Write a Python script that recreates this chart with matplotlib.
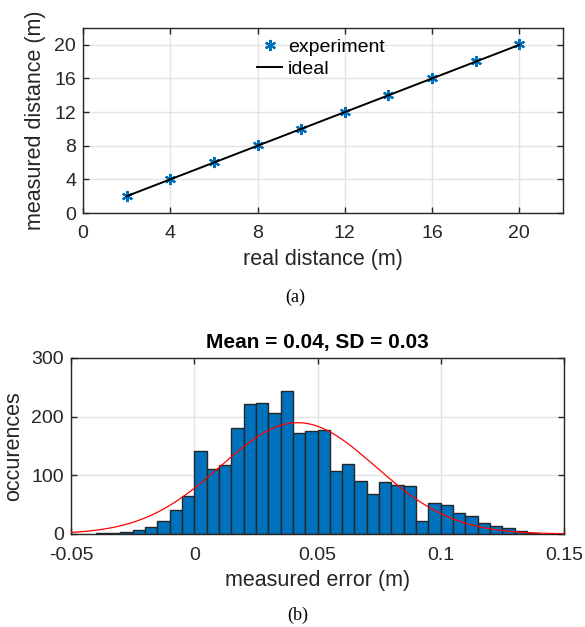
import numpy as np
import matplotlib
matplotlib.use("Agg")
import matplotlib.pyplot as plt

# ---- data ----
real_dist = [2, 4, 6, 8, 10, 12, 14, 16, 18, 20]
measured_dist = [2.05, 4.03, 6.02, 8.04, 10.03, 12.02, 14.04, 16.03, 18.05, 20.04]
ideal_x = [2, 20]
ideal_y = [2, 20]

bin_start = -0.04
bin_width = 0.005
counts = [1, 1, 3, 6, 12, 22, 41, 65,
          142, 110, 118, 180, 221, 223, 207, 244,
          172, 175, 178, 107, 120, 90, 68, 88,
          83, 82, 23, 52, 49, 35, 30, 19,
          13, 10, 5, 1]
fit_mean = 0.042
fit_sd = 0.0315

top_xticks = [0, 4, 8, 12, 16, 20]
top_yticks = [0, 4, 8, 12, 16, 20]
bot_xticks = [-0.05, 0, 0.05, 0.1, 0.15]
bot_xticklabels = ["-0.05", "0", "0.05", "0.1", "0.15"]
bot_yticks = [0, 100, 200, 300]

# ---- style ----
plt.rcParams['font.family'] = ['Liberation Sans', 'DejaVu Sans']
W, H = 585, 627
fig = plt.figure(figsize=(W / 100, H / 100), dpi=100)
axcol = '#262626'
gridcol = '#e3e3e3'
blue = '#0072BD'
TICK = 14
LAB = 15.5


def style(ax):
    for s in ax.spines.values():
        s.set_color(axcol)
        s.set_linewidth(1.0)
    ax.tick_params(direction='in', top=True, right=True, colors=axcol,
                   labelsize=TICK, length=4, width=1.0)
    ax.tick_params(axis='x', pad=9)
    ax.tick_params(axis='y', pad=5)
    ax.grid(True, color=gridcol, linewidth=1.0)
    ax.set_axisbelow(True)


def box(l, t, r, b):
    return [l / W, 1 - b / H, (r - l) / W, (b - t) / H]


# ---- top panel ----
ax1 = fig.add_axes(box(83, 28, 563, 213))
ax1.plot(real_dist, measured_dist, linestyle='none', marker=(6, 2, 0),
         markersize=8, markeredgewidth=1.6, color=blue, label='experiment',
         zorder=3)
ax1.plot(ideal_x, ideal_y, color='black', linewidth=1.4, label='ideal', zorder=4)
ax1.set_xlim(0, 22)
ax1.set_ylim(0, 22)
ax1.set_xticks(top_xticks)
ax1.set_yticks(top_yticks)
style(ax1)
ax1.set_xlabel('real distance (m)', fontsize=LAB, color='#262626', labelpad=5)
ax1.set_ylabel('measured distance (m)', fontsize=LAB, color='#262626', labelpad=6)
leg = ax1.legend(loc='upper left', bbox_to_anchor=(0.34, 1.0), frameon=False,
                 fontsize=TICK, handlelength=1.3, handletextpad=0.3,
                 labelspacing=0.2, borderaxespad=0.15)
for t in leg.get_texts():
    t.set_color('black')
fig.text(295 / W, 1 - 297 / H, '(a)', ha='center', va='center',
         fontsize=13, family='Liberation Serif')

# ---- bottom panel ----
ax2 = fig.add_axes(box(71, 358, 564, 534))
lefts = bin_start + bin_width * np.arange(len(counts))
ax2.bar(lefts, counts, width=bin_width, align='edge', color=blue,
        edgecolor='#262626', linewidth=1.0, zorder=2)
xs = np.linspace(-0.05, 0.15, 400)
pdf = np.exp(-0.5 * ((xs - fit_mean) / fit_sd) ** 2) / (fit_sd * np.sqrt(2 * np.pi))
ax2.plot(xs, pdf * sum(counts) * bin_width, color='red', linewidth=0.9, zorder=3)
ax2.set_xlim(-0.05, 0.15)
ax2.set_ylim(0, 300)
ax2.set_xticks(bot_xticks)
ax2.set_xticklabels(bot_xticklabels)
ax2.set_yticks(bot_yticks)
style(ax2)
ax2.set_xlabel('measured error (m)', fontsize=LAB, color='#262626', labelpad=5)
ax2.set_ylabel('occurences', fontsize=LAB, color='#262626', labelpad=5)
ax2.set_title('Mean = 0.04, SD = 0.03', fontsize=15, fontweight='bold', pad=7)
fig.text(298 / W, 1 - 615 / H, '(b)', ha='center', va='center',
         fontsize=13, family='Liberation Serif')

fig.savefig('out.png', dpi=100, facecolor='white')
